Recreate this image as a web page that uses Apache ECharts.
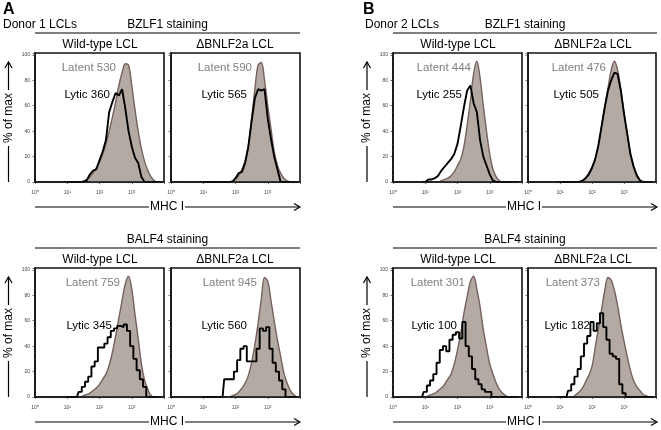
<!DOCTYPE html>
<html><head><meta charset="utf-8">
<script src="https://cdn.jsdelivr.net/npm/echarts@6/dist/echarts.min.js"></script>
<style>html,body{margin:0;padding:0;background:#fff}#c{width:661px;height:430px}</style>
</head><body><div id="c"></div>
<script>
// histogram bin centres, in log10(MHC I fluorescence)
const binLog10 = [0.9,1.0,1.1,1.2,1.3,1.4,1.5,1.6,1.7,1.8,1.9,2.0,2.1,2.2,2.3,2.4,2.5,2.6,2.7,2.8,2.9,3.0,3.1,3.2,3.3,3.4,3.5,3.6,3.7,3.8,3.9];

// Donor 1, BZLF1 staining
const d1BzWtLatent  = [0,0,0,0,0,0,1,2,4,7,11,16,22,30,40,51,63,76,86,93,92,76,57,40,26,16,9,4,1,0,0];
const d1BzWtLytic   = [0,0,0,0,0,0,0,1,6,9,10,17,24,33,55,63,70,68,73,58,40,28,19,15,4,0,0,0,0,0,0];
const d1BzKoLatent  = [0,0,0,0,0,0,0,0,0,0,1,2,5,10,17,29,50,73,92,94,80,60,42,24,13,7,3,1,0,0,0];
const d1BzKoLytic   = [0,0,0,0,0,0,0,0,0,0,0,3,7,8,15,28,48,66,73,72,73,50,34,20,10,0,0,0,0,0,0];
// Donor 2, BZLF1 staining
const d2BzWtLatent  = [0,0,0,0,0,0,1,2,3,5,8,13,18,28,45,64,85,95,82,60,40,22,10,4,1,0,0,0,0,0,0];
const d2BzWtLytic   = [0,0,2,2,3,5,9,12,15,18,22,30,44,59,72,76,62,55,33,20,13,6,1,0,0,0,0,0,0,0,0];
const d2BzKoLatent  = [0,0,0,0,0,0,0,0,1,3,7,12,18,28,44,59,74,88,95,88,73,54,38,23,13,6,2,0,0,0,0];
const d2BzKoLytic   = [0,0,0,0,0,0,0,0,1,3,6,11,18,29,44,59,72,80,86,85,72,54,38,22,12,5,1,0,0,0,0];
// Donor 1, BALF4 staining
const d1BaWtLatent  = [0,0,0,0,0,0,1,2,3,5,7,10,14,18,25,35,48,62,76,89,95,85,65,46,26,13,6,1,0,0,0];
const d1BaWtLytic   = [0,0,0,0,0,4,8,12,16,24,28,39,39,42,47,52,54,56,55,57,52,40,30,21,14,8,0,0,0,0,0];
const d1BaKoLatent  = [0,0,0,0,0,0,0,0,0,0,1,2,4,7,11,17,27,41,58,77,94,91,76,60,45,32,19,11,5,2,0];
const d1BaKoLytic   = [0,0,0,0,0,0,0,0,14,14,14,20,29,38,40,28,28,28,38,54,52,55,38,27,20,13,6,0,0,0,0];
// Donor 2, BALF4 staining
const d2BaWtLatent  = [0,0,1,2,3,5,7,10,14,18,26,37,50,66,79,91,95,85,71,53,39,26,18,11,6,3,1,0,0,0,0];
const d2BaWtLytic   = [0,4,9,13,18,27,37,40,36,45,49,51,46,59,40,32,22,14,10,6,4,4,0,0,0,0,0,0,0,0,0];
const d2BaKoLatent  = [0,0,0,0,0,0,2,4,7,12,17,24,39,54,69,84,94,92,84,72,57,44,32,21,13,8,5,2,1,0,0];
const d2BaKoLytic   = [0,0,0,0,5,10,16,22,32,42,48,59,52,58,66,55,45,34,32,30,10,3,0,0,0,0,0,0,0,0,0];

// mean fluorescence intensities printed in each panel
const latentMFI = [530, 590, 444, 476, 759, 945, 301, 373];
const lyticMFI  = [360, 565, 255, 505, 345, 560, 100, 182];

const xTickText = {1: '10\u2070', 10: '10\u00b9', 100: '10\u00b2', 1000: '10\u00b3'};

const latentSets = [d1BzWtLatent, d1BzKoLatent, d2BzWtLatent, d2BzKoLatent, d1BaWtLatent, d1BaKoLatent, d2BaWtLatent, d2BaKoLatent];
const lyticSets  = [d1BzWtLytic, d1BzKoLytic, d2BzWtLytic, d2BzKoLytic, d1BaWtLytic, d1BaKoLytic, d2BaWtLytic, d2BaKoLytic];

// layout (pixels)
const panels = [
  {left: 35,  top: 53,  width: 129, yl: true,  lx: 116, stepLine: false},
  {left: 171, top: 53,  width: 129, yl: false, lx: 252, stepLine: false},
  {left: 393, top: 53,  width: 129, yl: true,  lx: 471, stepLine: false},
  {left: 528, top: 53,  width: 128, yl: false, lx: 606, stepLine: false},
  {left: 35,  top: 268, width: 129, yl: true,  lx: 120, stepLine: true},
  {left: 171, top: 268, width: 129, yl: false, lx: 257, stepLine: true},
  {left: 393, top: 268, width: 129, yl: true,  lx: 465, stepLine: true},
  {left: 528, top: 268, width: 128, yl: false, lx: 600, stepLine: true}
];
const lyticRight = [110, 247, 462, 599, 112, 247, 457, 590];
const PH = 129;
const FONT = 'Liberation Sans, Arial, sans-serif';

const grids = [], xAxes = [], yAxes = [], series = [];
panels.forEach((p, i) => {
  grids.push({left: p.left, top: p.top, width: p.width, height: PH, show: true,
    borderColor: '#111', borderWidth: 1.6, backgroundColor: 'transparent', containLabel: false});
  xAxes.push({type: 'log', logBase: 10, min: 1, max: 10000, gridIndex: i, z: 5,
    axisLine: {show: true, lineStyle: {color: '#111', width: 1.6}},
    axisTick: {show: true, length: 2, lineStyle: {color: '#333', width: 0.7}},
    minorTick: {show: true, splitNumber: 9, length: 1.3, lineStyle: {color: '#555', width: 0.5}},
    splitLine: {show: false},
    axisLabel: {fontSize: 5, color: '#444', margin: 8, fontFamily: FONT,
      formatter: v => xTickText[Math.round(v)] || ''}});
  yAxes.push({type: 'value', min: 0, max: 101.5, interval: 20, gridIndex: i, z: 5,
    axisLine: {show: true, lineStyle: {color: '#111', width: 1.6}},
    axisTick: {show: true, length: 2.5, lineStyle: {color: '#333', width: 0.7}},
    minorTick: {show: true, splitNumber: 4, length: 1.3, lineStyle: {color: '#666', width: 0.5}},
    splitLine: {show: false},
    axisLabel: {show: p.yl, fontSize: 5, color: '#444', margin: 5, fontFamily: FONT,
      formatter: v => (v % 20 === 0 ? String(v) : '')}});
  series.push({type: 'line', xAxisIndex: i, yAxisIndex: i, name: 'Latent', z: 2,
    smooth: 0.35, symbol: 'none', silent: true,
    lineStyle: {color: '#76615d', width: 1.4},
    areaStyle: {color: '#b3aaa3', opacity: 1},
    data: binLog10.map((d, k) => [Math.pow(10, d), latentSets[i][k]])});
  series.push({type: 'line', xAxisIndex: i, yAxisIndex: i, name: 'Lytic', z: 3,
    step: p.stepLine ? 'middle' : false, symbol: 'none', silent: true,
    lineStyle: {color: '#000', width: 1.9},
    data: binLog10.map((d, k) => [Math.pow(10, d), lyticSets[i][k]])});
});

const g = [];
function txt(x, y, s, o) {
  o = o || {};
  g.push({type: 'text', x: x, y: y, rotation: o.rot || 0, z: 10,
    style: {text: s, fill: o.color || '#000', font: (o.bold ? 'bold ' : '') + (o.size || 12) + 'px ' + FONT,
      align: o.align || 'center', verticalAlign: 'middle',
      textAlign: o.align || 'center', textVerticalAlign: 'middle'}});
}
function ln(x1, y1, x2, y2, w) {
  g.push({type: 'line', z: 10, shape: {x1: x1, y1: y1, x2: x2, y2: y2}, style: {stroke: '#000', lineWidth: w || 1.2}});
}
function poly(pts) {
  g.push({type: 'polyline', z: 10, shape: {points: pts}, style: {stroke: '#000', lineWidth: 1.2, fill: null}});
}

// panel letters and donor labels
txt(3, 10, 'A', {bold: true, size: 16, align: 'left'});
txt(363, 10, 'B', {bold: true, size: 16, align: 'left'});
txt(3, 25, 'Donor 1 LCLs', {align: 'left'});
txt(365, 25, 'Donor 2 LCLs', {align: 'left'});

const blocks = [
  {x0: 35, x1: 300, dy: 0, title: 'BZLF1 staining', wt: 100, ko: 235, mhc: 167, yArrowX: 8.5},
  {x0: 393, x1: 657, dy: 0, title: 'BZLF1 staining', wt: 458, ko: 593, mhc: 524, yArrowX: 367},
  {x0: 35, x1: 300, dy: 215, title: 'BALF4 staining', wt: 100, ko: 235, mhc: 167, yArrowX: 8.5},
  {x0: 393, x1: 657, dy: 215, title: 'BALF4 staining', wt: 458, ko: 593, mhc: 524, yArrowX: 367}
];
blocks.forEach(b => {
  txt((b.x0 + b.x1) / 2, 25 + b.dy, b.title);
  ln(b.x0, 33 + b.dy, b.x1, 33 + b.dy, 1.2);
  txt(b.wt, 45 + b.dy, 'Wild-type LCL');
  txt(b.ko, 45 + b.dy, '\u0394BNLF2a LCL');
  // x arrow
  const ay = 207 + b.dy;
  ln(b.x0, ay, b.mhc - 18, ay, 1.2);
  txt(b.mhc, ay, 'MHC I');
  ln(b.mhc + 18, ay, b.x1 - 1, ay, 1.2);
  poly([[b.x1 - 6, ay - 3.5], [b.x1, ay], [b.x1 - 6, ay + 3.5]]);
  // y arrow
  const ax = b.yArrowX;
  ln(ax, 182 + b.dy, ax, 146 + b.dy, 1.2);
  txt(ax, 118 + b.dy, '% of max', {rot: Math.PI / 2});
  ln(ax, 90 + b.dy, ax, 62 + b.dy, 1.2);
  poly([[ax - 3.5, 68 + b.dy], [ax, 62 + b.dy], [ax + 3.5, 68 + b.dy]]);
});

panels.forEach((p, i) => {
  txt(p.lx, p.top + 15, 'Latent ' + latentMFI[i], {align: 'right', color: '#7f7f7f', size: 11.5});
  txt(lyticRight[i], p.top + 42 + (i >= 4 ? 16 : 0), 'Lytic ' + lyticMFI[i], {align: 'right', color: '#000', size: 11.5});
});

const chart = echarts.init(document.getElementById('c'), null, {renderer: 'canvas'});
chart.setOption({
  animation: false,
  backgroundColor: '#fff',
  grid: grids, xAxis: xAxes, yAxis: yAxes, series: series,
  graphic: {elements: g}
});
</script>
</body></html>
